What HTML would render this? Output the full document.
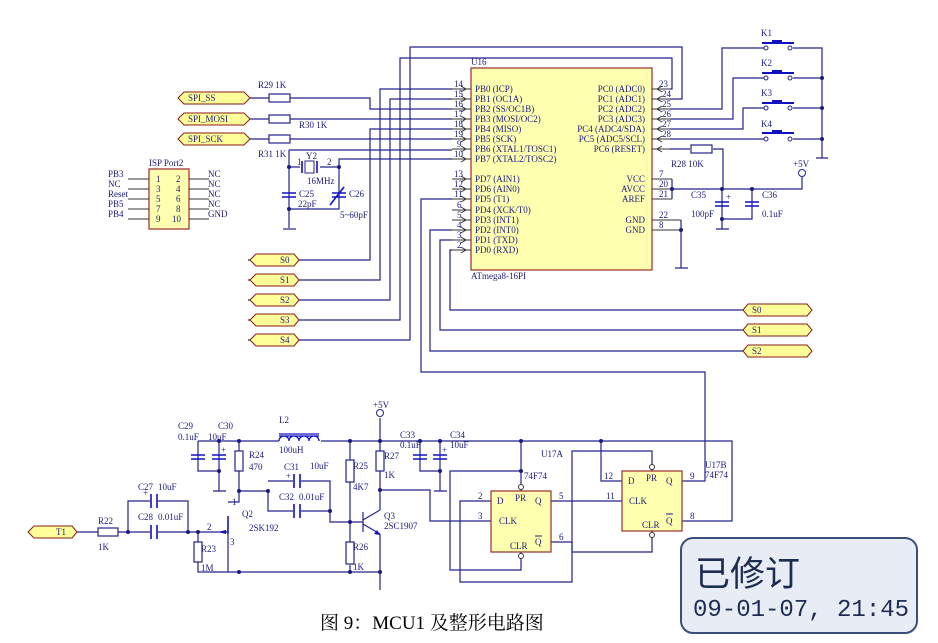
<!DOCTYPE html>
<html><head><meta charset="utf-8"><style>
html,body{margin:0;padding:0;background:#fff;}
svg{display:block;}
text{font-family:"Liberation Serif","Noto Serif CJK SC",serif;fill:#1a1a80;font-size:9px;}
.w{stroke:#23238c;stroke-width:1.2;fill:none;}
.p{stroke:#333;stroke-width:1;fill:none;}
.r{fill:#fff;stroke:#23238c;stroke-width:1.2;}
.c{stroke:#1010c0;stroke-width:1.6;fill:none;}
.d{fill:#1a1a80;}
.tag{fill:#ffff99;stroke:#8b1a1a;stroke-width:1;}
.box{fill:#ffffb0;stroke:#9b2b2b;stroke-width:1.2;}
</style></head><body>
<svg width="938" height="643" viewBox="0 0 938 643" xmlns="http://www.w3.org/2000/svg">
<rect class="box" x="471" y="68" width="181" height="202"/>
<text x="471" y="65">U16</text>
<text x="471" y="279">ATmega8-16PI</text>
<g class="p">
<path d="M452 89H471M452 99H471M452 109H471M452 119H471M452 129H471M452 139H471M452 149H471M452 159H471M452 179H471M452 189H471M452 199H471M452 210H471M452 220H471M452 230H471M452 240H471M452 250H471"/>
<path d="M652 89H670M652 99H670M652 109H670M652 119H670M652 129H670M652 139H670M652 149H670M652 179H672M652 189H672M652 199H672M652 220H681M652 230H681"/>
</g>
<g class="p">
<path d="M461 86l5 3-5 3M461 96l5 3-5 3M461 106l5 3-5 3M461 116l5 3-5 3M461 126l5 3-5 3M461 136l5 3-5 3M461 146l5 3-5 3M461 156l5 3-5 3M461 176l5 3-5 3M461 186l5 3-5 3M461 196l5 3-5 3M461 207l5 3-5 3M461 217l5 3-5 3M461 227l5 3-5 3M461 237l5 3-5 3M461 247l5 3-5 3"/>
<path d="M662 86l-5 3 5 3M662 96l-5 3 5 3M662 106l-5 3 5 3M662 116l-5 3 5 3M662 126l-5 3 5 3M662 136l-5 3 5 3M662 146l-5 3 5 3"/>
</g>
<g font-size="9">
<text x="454" y="87">14</text><text x="454" y="97">15</text><text x="454" y="107">16</text><text x="454" y="117">17</text><text x="454" y="127">18</text><text x="454" y="137">19</text><text x="457" y="147">9</text><text x="454" y="157">10</text>
<text x="454" y="177">13</text><text x="454" y="187">12</text><text x="454" y="197">11</text><text x="457" y="208">6</text><text x="457" y="218">5</text><text x="457" y="228">4</text><text x="457" y="238">3</text><text x="457" y="248">2</text>
<text x="475" y="92">PB0 (ICP)</text><text x="475" y="102">PB1 (OC1A)</text><text x="475" y="112">PB2 (SS/OC1B)</text><text x="475" y="122">PB3 (MOSI/OC2)</text><text x="475" y="132">PB4 (MISO)</text><text x="475" y="142">PB5 (SCK)</text><text x="475" y="152">PB6 (XTAL1/TOSC1)</text><text x="475" y="162">PB7 (XTAL2/TOSC2)</text>
<text x="475" y="182">PD7 (AIN1)</text><text x="475" y="192">PD6 (AIN0)</text><text x="475" y="202">PD5 (T1)</text><text x="475" y="213">PD4 (XCK/T0)</text><text x="475" y="223">PD3 (INT1)</text><text x="475" y="233">PD2 (INT0)</text><text x="475" y="243">PD1 (TXD)</text><text x="475" y="253">PD0 (RXD)</text>
<g text-anchor="end"><text x="645" y="92">PC0 (ADC0)</text><text x="645" y="102">PC1 (ADC1)</text><text x="645" y="112">PC2 (ADC2)</text><text x="645" y="122">PC3 (ADC3)</text><text x="645" y="132">PC4 (ADC4/SDA)</text><text x="645" y="142">PC5 (ADC5/SCL)</text><text x="645" y="152">PC6 (RESET)</text>
<text x="645" y="182">VCC</text><text x="645" y="192">AVCC</text><text x="645" y="202">AREF</text><text x="645" y="223">GND</text><text x="645" y="233">GND</text></g>
<text x="659" y="87">23</text><text x="662" y="97">24</text><text x="662" y="107">25</text><text x="662" y="117">26</text><text x="662" y="127">27</text><text x="662" y="137">28</text>
<text x="659" y="177">7</text><text x="659" y="187">20</text><text x="659" y="197">21</text><text x="659" y="218">22</text><text x="659" y="228">8</text>
</g>
<g class="w">
<path d="M248 340H410V47H682V99H670"/>
<path d="M248 320H400V58H672V89H670"/>
<path d="M248 300H390V99H452"/>
<path d="M248 280H380V89H452"/>
<path d="M248 260H370V129H452"/>
<path d="M248 98H269M290 98H370V109H452"/>
<path d="M248 119H269M290 119H452"/>
<path d="M248 139H269M290 139H452"/>
<path d="M289 150H452M289 150V209M339 167V159H452M289 167H300M320 167H339V209H289M289 209V228"/>
<path d="M283 229H296"/>
<path d="M452 199H421V372H705V481H682"/>
<path d="M452 230H430V351H743"/>
<path d="M452 240H440V330H743"/>
<path d="M452 250H450V310H743"/>
</g>
<g>
<polygon class="tag" points="178,98 184,92 244,92 250,98 244,104 184,104"/><text x="188" y="101" font-size="9">SPI_SS</text>
<polygon class="tag" points="178,119 184,113 244,113 250,119 244,125 184,125"/><text x="188" y="122" font-size="9">SPI_MOSI</text>
<polygon class="tag" points="178,139 184,133 244,133 250,139 244,145 184,145"/><text x="188" y="142" font-size="9">SPI_SCK</text>
<polygon class="tag" points="250,260 256,254 294,254 299,260 294,266 256,266"/><text x="280" y="263">S0</text>
<polygon class="tag" points="250,280 256,274 294,274 299,280 294,286 256,286"/><text x="280" y="283">S1</text>
<polygon class="tag" points="250,300 256,294 294,294 299,300 294,306 256,306"/><text x="280" y="303">S2</text>
<polygon class="tag" points="250,320 256,314 294,314 299,320 294,326 256,326"/><text x="280" y="323">S3</text>
<polygon class="tag" points="250,340 256,334 294,334 299,340 294,346 256,346"/><text x="280" y="343">S4</text>
<polygon class="tag" points="743,310 748,304 807,304 812,310 807,316 748,316"/><text x="752" y="313">S0</text>
<polygon class="tag" points="743,330 748,324 807,324 812,330 807,336 748,336"/><text x="752" y="333">S1</text>
<polygon class="tag" points="743,351 748,345 807,345 812,351 807,357 748,357"/><text x="752" y="354">S2</text>
</g>
<g fill="#fff"><rect class="r" x="269" y="94" width="21" height="8"/><rect class="r" x="269" y="115" width="21" height="8"/><rect class="r" x="269" y="135" width="21" height="8"/></g>
<text x="258" y="88">R29  1K</text><text x="299" y="128">R30  1K</text><text x="258" y="157">R31  1K</text>
<rect x="305" y="161" width="9" height="12" fill="#fff" stroke="#23238c"/><path class="c" d="M302 161v12M317 161v12"/>
<text x="306" y="159">Y2</text><text x="297" y="165">1</text><text x="327" y="165">2</text><text x="307" y="184">16MHz</text>
<path class="c" d="M282 193h14M282 197h14M332 193h14M332 197h14M330 205l14-18"/>
<text x="299" y="197">C25</text><text x="298" y="207">22pF</text><text x="349" y="197">C26</text><text x="340" y="218">5~60pF</text>
<g class="d"><circle cx="289" cy="167" r="2"/><circle cx="339" cy="167" r="2"/><circle cx="289" cy="209" r="2"/></g>
<rect class="box" x="149" y="169" width="40" height="60"/>
<text x="149" y="166">ISP Port2</text>
<path class="p" d="M128 179H149M128 189H149M128 199H149M128 209H149M128 219H149M189 179H209M189 189H209M189 199H209M189 209H209M189 219H209"/>
<g font-size="9"><text x="156" y="182">1</text><text x="156" y="192">3</text><text x="156" y="202">5</text><text x="156" y="212">7</text><text x="156" y="222">9</text>
<text x="176" y="182">2</text><text x="176" y="192">4</text><text x="176" y="202">6</text><text x="176" y="212">8</text><text x="172" y="222">10</text>
<text x="108" y="177">PB3</text><text x="108" y="187">NC</text><text x="108" y="197">Reset</text><text x="108" y="207">PB5</text><text x="108" y="217">PB4</text>
<text x="208" y="177">NC</text><text x="208" y="187">NC</text><text x="208" y="197">NC</text><text x="208" y="207">NC</text><text x="208" y="217">GND</text></g>
<g class="w">
<path d="M670 109H722V48H764M670 119H733V78H764M670 129H743V108H764M670 139H764"/>
<path d="M793 48H822V158M793 78H822M793 108H822M793 139H822M816 158H828"/>
<path d="M670 149H690M713 149H723V189M672 179V199M672 189H802V177"/>
<path d="M722 189V229M752 189V219H722M716 229H729M681 220V268M675 268H688"/>
</g>
<g fill="none" stroke="#23238c"><circle cx="766" cy="48" r="2"/><circle cx="790" cy="48" r="2"/><circle cx="766" cy="78" r="2"/><circle cx="790" cy="78" r="2"/><circle cx="766" cy="108" r="2"/><circle cx="790" cy="108" r="2"/><circle cx="766" cy="139" r="2"/><circle cx="790" cy="139" r="2"/><circle cx="802" cy="173" r="3.5"/></g>
<path d="M762 43h32M772 41h10M762 73h32M772 71h10M762 103h32M772 101h10M762 133h32M772 131h10" stroke="#1010c0" stroke-width="2"/>
<text x="761" y="36">K1</text><text x="761" y="66">K2</text><text x="761" y="96">K3</text><text x="761" y="127">K4</text>
<rect class="r" x="691" y="145" width="21" height="8"/>
<text x="671" y="167">R28  10K</text><text x="793" y="167">+5V</text>
<path class="c" d="M715 202h14M715 206h14M745 202h14M745 206h14"/>
<text x="726" y="200" fill="#1010c0">+</text>
<text x="691" y="198">C35</text><text x="691" y="217">100pF</text><text x="762" y="198">C36</text><text x="762" y="217">0.1uF</text>
<g class="d"><circle cx="822" cy="78" r="2"/><circle cx="822" cy="108" r="2"/><circle cx="822" cy="139" r="2"/><circle cx="672" cy="189" r="2"/><circle cx="722" cy="189" r="2"/><circle cx="752" cy="189" r="2"/><circle cx="722" cy="219" r="2"/><circle cx="681" cy="230" r="2"/></g>
<g class="w">
<path d="M77 532H98M118 532H188M128 532V501H150M158 501H188V532M188 532H228"/>
<path d="M198 532V572H380M198 441H732V521H682"/>
<path d="M198 441V471H219M219 441V491M213 491H226M239 441V491M239 491H268V511H330V522H363M268 481H330V511M239 491V502H228M228 520V572"/>
<path d="M350 441V542M350 565V572M380 418V510M380 534V590M380 490H430V521H491"/>
<path d="M420 441V471H440M440 441V491M434 491H447"/>
<path d="M521 441V491M521 471H450V570H521V552M551 501H622M551 542H572V582H460V501H491"/>
<path d="M601 441V481H622M652 471V451H572V552H652V531"/>
</g>
<rect x="279" y="436" width="42" height="8" fill="#fff"/>
<path d="M279 441a5 5 0 0 1 10 0a5 5 0 0 1 10 0a5 5 0 0 1 10 0a5 5 0 0 1 10 0M279 434h40M279 436h40" stroke="#1010c0" stroke-width="1.3" fill="none"/>
<polygon class="tag" points="28,532 34,526 72,526 77,532 72,538 34,538"/><text x="56" y="535">T1</text>
<rect class="r" x="98" y="528" width="20" height="8"/>
<rect class="r" x="194" y="542" width="8" height="20"/><rect class="r" x="235" y="451" width="8" height="20"/>
<rect class="r" x="346" y="460" width="8" height="22"/><rect class="r" x="346" y="542" width="8" height="22"/><rect class="r" x="376" y="451" width="8" height="20"/>
<rect x="150" y="495" width="8" height="12" fill="#fff"/><rect x="150" y="526" width="8" height="12" fill="#fff"/>
<rect x="293" y="475" width="8" height="12" fill="#fff"/><rect x="293" y="505" width="8" height="12" fill="#fff"/>
<path class="c" d="M151 494v14M157 494v14M151 525v14M157 525v14M294 474v14M300 474v14M294 504v14M300 504v14M191 455h14M191 459h14M212 455h14M212 459h14M413 455h14M413 459h14M433 455h14M433 459h14"/>
<g fill="#1010c0" font-size="9"><text x="143" y="496">+</text><text x="286" y="479">+</text><text x="221" y="453">+</text><text x="442" y="453">+</text></g>
<path d="M228 516v18" stroke="#1010c0" stroke-width="1.5"/><path d="M218 532l8-2v4z" fill="#1010c0"/>
<path d="M363 512v20M363 520l17-10M363 524l17 10" stroke="#23238c" stroke-width="1.2" fill="none"/><path d="M380 535l-6-1 3-4z" fill="#1010c0"/>
<circle cx="380" cy="413" r="3.5" fill="none" stroke="#23238c"/>
<g font-size="9">
<text x="98" y="524">R22</text><text x="98" y="550">1K</text><text x="138" y="490">C27</text><text x="158" y="490">10uF</text><text x="138" y="520">C28</text><text x="158" y="520">0.01uF</text>
<text x="201" y="552">R23</text><text x="201" y="571">1M</text><text x="207" y="530">2</text><text x="232" y="505">1</text><text x="230" y="545">3</text>
<text x="242" y="517">Q2</text><text x="249" y="531">2SK192</text>
<text x="178" y="429">C29</text><text x="178" y="440">0.1uF</text><text x="218" y="429">C30</text><text x="208" y="440">10uF</text>
<text x="249" y="458">R24</text><text x="249" y="470">470</text>
<text x="279" y="423">L2</text><text x="279" y="453">100uH</text>
<text x="284" y="470">C31</text><text x="310" y="469">10uF</text><text x="279" y="500">C32</text><text x="299" y="500">0.01uF</text>
<text x="353" y="469">R25</text><text x="353" y="490">4K7</text><text x="353" y="550">R26</text><text x="353" y="570">1K</text>
<text x="384" y="459">R27</text><text x="384" y="478">1K</text><text x="373" y="408">+5V</text>
<text x="384" y="519">Q3</text><text x="384" y="529">2SC1907</text>
<text x="400" y="438">C33</text><text x="400" y="448">0.1uF</text><text x="450" y="438">C34</text><text x="450" y="448">10uF</text>
<text x="541" y="457">U17A</text><text x="524" y="479">74F74</text><text x="705" y="468">U17B</text><text x="705" y="478">74F74</text>
</g>
<g class="d"><circle cx="128" cy="532" r="2"/><circle cx="188" cy="532" r="2"/><circle cx="198" cy="532" r="2"/><circle cx="219" cy="441" r="2"/><circle cx="219" cy="471" r="2"/><circle cx="239" cy="441" r="2"/><circle cx="239" cy="491" r="2"/><circle cx="268" cy="491" r="2"/><circle cx="330" cy="511" r="2"/><circle cx="350" cy="441" r="2"/><circle cx="350" cy="522" r="2"/><circle cx="380" cy="441" r="2"/><circle cx="380" cy="490" r="2"/><circle cx="239" cy="572" r="2"/><circle cx="350" cy="572" r="2"/><circle cx="380" cy="572" r="2"/><circle cx="420" cy="441" r="2"/><circle cx="440" cy="441" r="2"/><circle cx="440" cy="471" r="2"/><circle cx="521" cy="441" r="2"/><circle cx="521" cy="471" r="2"/><circle cx="601" cy="441" r="2"/></g>
<rect class="box" x="491" y="491" width="60" height="61"/>
<rect class="box" x="622" y="471" width="60" height="60"/>
<g fill="#fff" stroke="#333"><circle cx="521" cy="487" r="2.5"/><circle cx="521" cy="556" r="2.5"/><circle cx="652" cy="467" r="2.5"/><circle cx="652" cy="535" r="2.5"/></g>
<g font-size="9">
<text x="497" y="504">D</text><text x="499" y="524">CLK</text><text x="515" y="501">PR</text><text x="535" y="504">Q</text><text x="510" y="549">CLR</text><text x="535" y="545">Q</text><path d="M535 536h7" stroke="#1a1a80"/>
<text x="478" y="499">2</text><text x="478" y="519">3</text><text x="559" y="499">5</text><text x="559" y="540">6</text>
<text x="628" y="484">D</text><text x="629" y="504">CLK</text><text x="646" y="481">PR</text><text x="666" y="484">Q</text><text x="642" y="528">CLR</text><text x="666" y="524">Q</text><path d="M666 514h7" stroke="#1a1a80"/>
<text x="604" y="479">12</text><text x="606" y="499">11</text><text x="690" y="479">9</text><text x="690" y="519">8</text>
</g>
<rect x="681" y="538" width="236" height="95" rx="12" fill="#e8edf5" stroke="#3c4f78" stroke-width="2"/>
<text x="695" y="586" style="font-family:'Noto Sans CJK SC',sans-serif;font-size:35px;fill:#1e2c52">已修订</text>
<text x="693" y="616" style="font-family:'Liberation Mono',monospace;font-size:24px;fill:#1e2c52">09-01-07, 21:45</text>
<text x="320" y="629" style="font-family:'Liberation Serif','Noto Serif CJK SC',serif;font-size:19px;fill:#000">图 9：MCU1 及整形电路图</text>
</svg>
</body></html>
